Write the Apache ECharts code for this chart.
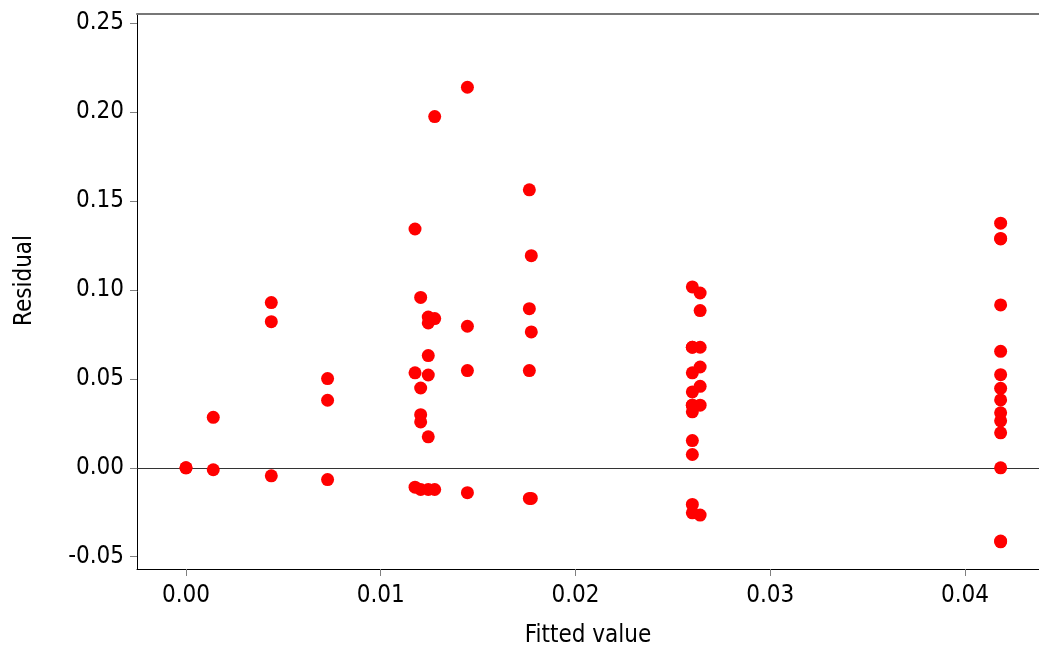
<!DOCTYPE html>
<html>
<head>
<meta charset="utf-8">
<script src="https://cdn.jsdelivr.net/npm/echarts@6/dist/echarts.min.js"></script>
<style>html,body{margin:0;padding:0;background:#fff}#c{width:1039px;height:650px}</style>
</head>
<body>
<div id="c"></div>
<script>
// Fitted value, residual pairs
const fittedValues = [
  0.0, 0.0,
  0.0014, 0.0014,
  0.00438, 0.00438, 0.00438,
  0.00727, 0.00727, 0.00727,
  0.01176, 0.01176, 0.01176,
  0.01205, 0.01205, 0.01205, 0.01205, 0.01205,
  0.01244, 0.01244, 0.01244, 0.01244, 0.01244, 0.01244,
  0.01277, 0.01277, 0.01277,
  0.01445, 0.01445, 0.01445, 0.01445,
  0.01763, 0.01763, 0.01763, 0.01763,
  0.01773, 0.01773, 0.01773,
  0.0260, 0.0260, 0.0260, 0.0260, 0.0260, 0.0260, 0.0260, 0.0260, 0.0260, 0.0260, 0.0260, 0.0260,
  0.0264, 0.0264, 0.0264, 0.0264, 0.0264, 0.0264, 0.0264,
  0.04183, 0.04183, 0.04183, 0.04183, 0.04183, 0.04183, 0.04183, 0.04183, 0.04183, 0.04183, 0.04183, 0.04183, 0.04183, 0.04183
];
const residuals = [
  0.0, 0.0,
  0.0284, -0.0011,
  0.0929, 0.0822, -0.0045,
  0.0502, 0.0380, -0.0066,
  0.1343, 0.0534, -0.0109,
  0.0958, 0.0449, 0.0299, 0.0258, -0.0122,
  0.0848, 0.0815, 0.0631, 0.0522, 0.0174, -0.0122,
  0.1975, 0.0839, -0.0122,
  0.2140, 0.0796, 0.0547, -0.0140,
  0.1563, 0.0895, 0.0547, -0.0172,
  0.1193, 0.0764, -0.0172,
  0.1017, 0.0678, 0.0534, 0.0427, 0.0352, 0.0315, 0.0153, 0.0075, -0.0206, -0.0253, 0.0352, 0.0678,
  0.0983, 0.0884, 0.0567, 0.0458, 0.0352, -0.0266, 0.0678,
  0.1376, 0.1287, 0.1290, 0.0916, 0.0655, 0.0524, 0.0447, 0.0382, 0.0309, 0.0264, 0.0197, 0.0, -0.0412, -0.0416
];
const xTickValues = [0.0, 0.01, 0.02, 0.03, 0.04];
const yTickValues = [-0.05, 0.0, 0.05, 0.10, 0.15, 0.20, 0.25];

const points = fittedValues.map((x, i) => [x, residuals[i]]);
const font = '"DejaVu Sans Condensed", "DejaVu Sans", sans-serif';

const chart = echarts.init(document.getElementById('c'));
chart.setOption({
  animation: false,
  backgroundColor: '#fff',
  grid: { left: 137, right: 0, top: 14, bottom: 81, containLabel: false, outerBoundsMode: 'none' },
  xAxis: [{
    type: 'value',
    min: -0.002516, max: 0.0438,
    name: 'Fitted value',
    nameLocation: 'middle',
    nameGap: 55,
    nameTextStyle: { fontFamily: font, fontSize: 24, color: '#000' },
    splitLine: { show: false },
    axisLine: { show: true, onZero: false, lineStyle: { color: '#000', width: 1 } },
    axisTick: { show: true, length: 7, customValues: xTickValues, lineStyle: { color: '#808080' } },
    axisLabel: { customValues: xTickValues, margin: 15, fontFamily: font, fontSize: 24, color: '#000',
      formatter: v => v.toFixed(2) }
  }, {
    type: 'value', position: 'top',
    min: -0.002516, max: 0.0438,
    splitLine: { show: false },
    axisLine: { show: true, onZero: false, lineStyle: { color: '#777', width: 2 } },
    axisTick: { show: false }, axisLabel: { show: false }
  }],
  yAxis: {
    type: 'value',
    min: -0.0569, max: 0.2552,
    name: 'Residual',
    nameLocation: 'middle',
    nameGap: 100,
    nameTextStyle: { fontFamily: font, fontSize: 24, color: '#000', padding: [0, 0, 0, 22] },
    splitLine: { show: false },
    axisLine: { show: true, onZero: false, lineStyle: { color: '#000', width: 1 } },
    axisTick: { show: true, length: 7, customValues: yTickValues, lineStyle: { color: '#808080' } },
    axisLabel: { customValues: yTickValues, margin: 13, fontFamily: font, fontSize: 24, color: '#000',
      formatter: v => v.toFixed(2) }
  },
  series: [{
    type: 'scatter',
    data: points,
    symbol: 'circle',
    symbolSize: 13,
    itemStyle: { color: '#ff0000', opacity: 1 },
    z: 3,
    markLine: {
      silent: true, symbol: 'none', label: { show: false },
      lineStyle: { color: '#333', width: 1, type: 'solid' },
      data: [{ yAxis: 0 }],
      z: 2
    }
  }]
});
</script>
</body>
</html>
